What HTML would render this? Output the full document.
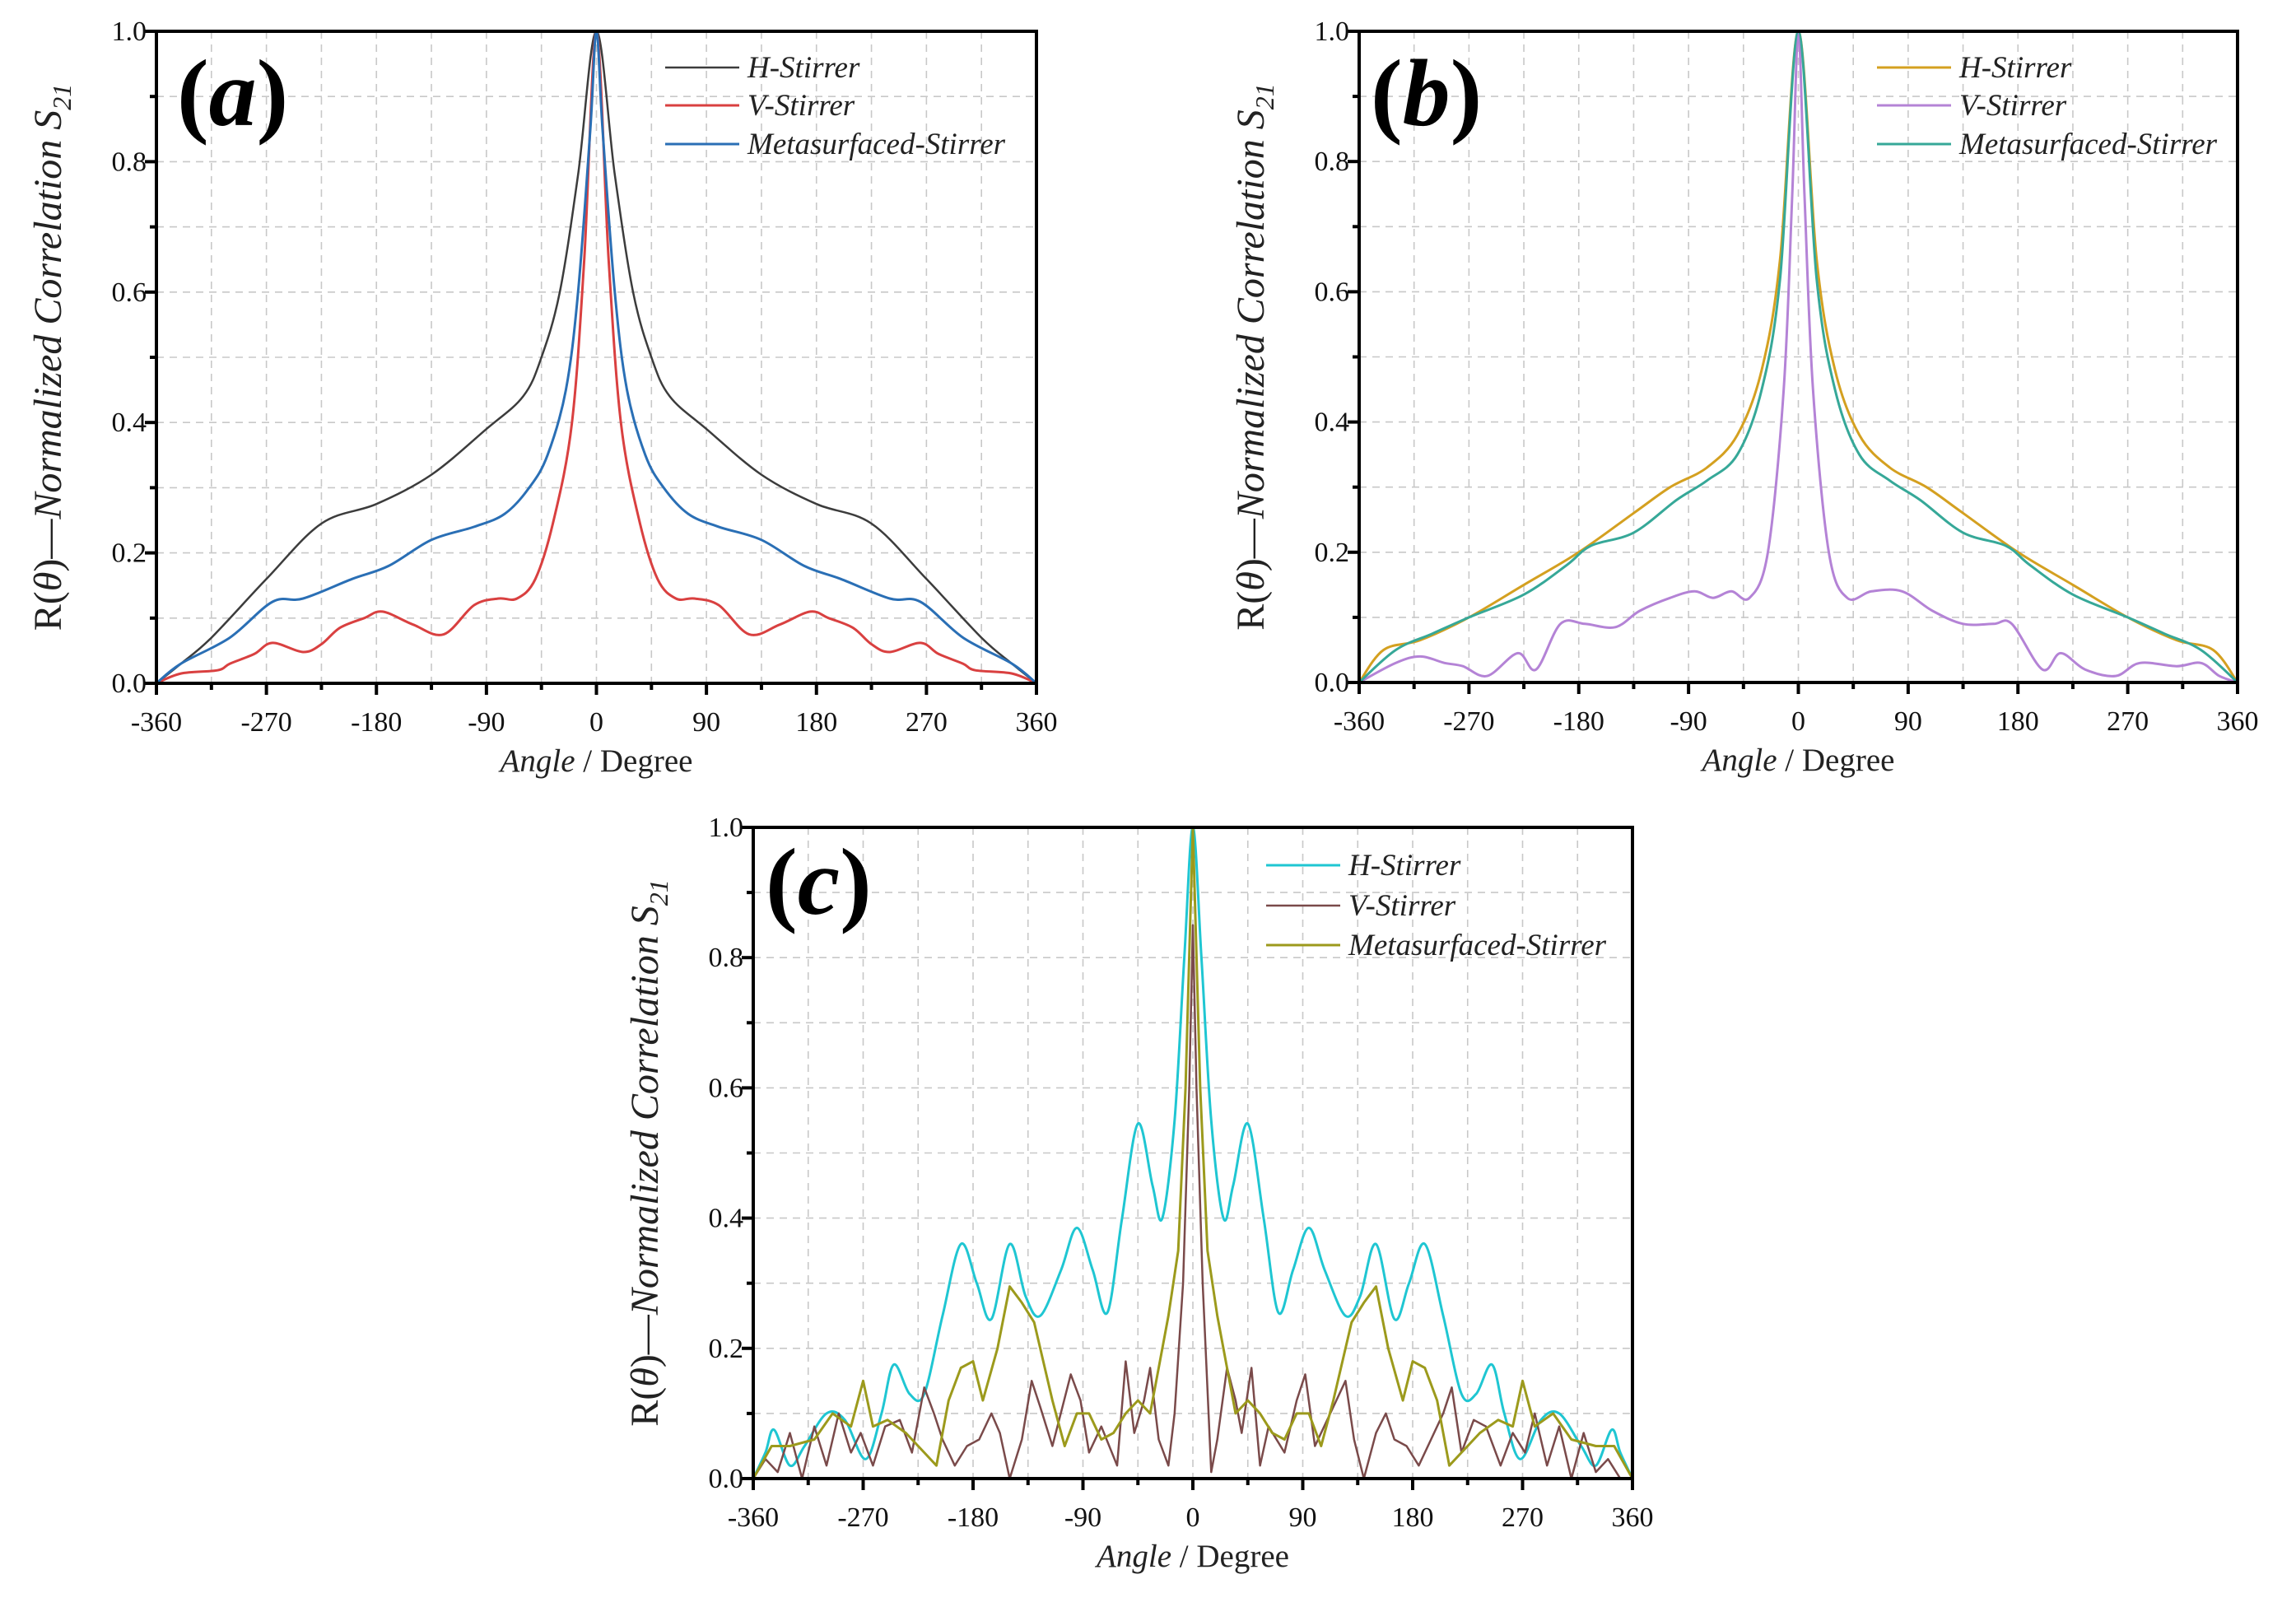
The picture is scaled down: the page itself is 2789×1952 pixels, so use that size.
<!DOCTYPE html>
<html><head><meta charset="utf-8"><style>
html,body{margin:0;padding:0;background:#fff;}
svg{display:block;font-family:"Liberation Serif",serif;}
</style></head>
<body>
<svg id="fig" width="2789" height="1952" viewBox="0 0 2789 1952" xmlns="http://www.w3.org/2000/svg" font-family="Liberation Serif, serif"></svg>
<script>
// ---------- data ----------
const xTicks = [-360,-270,-180,-90,0,90,180,270,360];
const yTicks = [0,0.2,0.4,0.6,0.8,1.0];
const yTickLabels = ["0.0","0.2","0.4","0.6","0.8","1.0"];
const seriesNames = ["H-Stirrer","V-Stirrer","Metasurfaced-Stirrer"];

// panel a
const aHx = [-360,-340,-315,-270,-225,-180,-135,-90,-60,-45,-30,-15,0,15,30,45,60,90,135,180,225,270,315,340,360];
const aHy = [0,0.03,0.07,0.16,0.245,0.275,0.32,0.39,0.44,0.5,0.6,0.78,1.0,0.78,0.6,0.5,0.44,0.39,0.32,0.275,0.245,0.16,0.07,0.03,0];
const aMx = [-360,-340,-300,-265,-240,-200,-170,-135,-100,-75,-55,-40,-25,-15,-5,0,5,15,25,40,55,75,100,135,170,200,240,265,300,340,360];
const aMy = [0,0.03,0.07,0.125,0.13,0.16,0.18,0.22,0.24,0.26,0.3,0.35,0.45,0.6,0.85,1.0,0.85,0.6,0.45,0.35,0.3,0.26,0.24,0.22,0.18,0.16,0.13,0.125,0.07,0.03,0];
const aVx = [-360,-340,-310,-300,-280,-265,-240,-225,-210,-190,-175,-150,-125,-100,-80,-65,-50,-35,-20,-10,0,10,20,35,50,65,80,100,125,150,175,190,210,225,240,265,280,300,310,340,360];
const aVy = [0,0.015,0.02,0.03,0.045,0.062,0.048,0.06,0.085,0.1,0.11,0.09,0.075,0.12,0.13,0.13,0.16,0.25,0.4,0.65,1.0,0.65,0.4,0.25,0.16,0.13,0.13,0.12,0.075,0.09,0.11,0.1,0.085,0.06,0.048,0.062,0.045,0.03,0.02,0.015,0];

// panel b
const bHx = [-360,-340,-310,-270,-225,-180,-135,-105,-75,-50,-30,-15,0,15,30,50,75,105,135,180,225,270,310,340,360];
const bHy = [0,0.05,0.065,0.1,0.15,0.2,0.26,0.3,0.33,0.38,0.48,0.65,1.0,0.65,0.48,0.38,0.33,0.3,0.26,0.2,0.15,0.1,0.065,0.05,0];
const bMx = [-360,-330,-300,-270,-225,-190,-170,-135,-100,-75,-50,-30,-15,0,15,30,50,75,100,135,170,190,225,270,300,330,360];
const bMy = [0,0.05,0.075,0.1,0.135,0.18,0.21,0.23,0.28,0.31,0.35,0.45,0.62,1.0,0.62,0.45,0.35,0.31,0.28,0.23,0.21,0.18,0.135,0.1,0.075,0.05,0];
const bVx = [-360,-330,-310,-290,-275,-255,-230,-215,-195,-175,-150,-130,-105,-85,-70,-55,-40,-25,-12,-5,0,5,12,25,40,60,85,110,135,160,175,200,215,235,260,280,310,330,345,360];
const bVy = [0,0.03,0.04,0.03,0.025,0.01,0.045,0.02,0.09,0.09,0.085,0.11,0.13,0.14,0.13,0.14,0.13,0.2,0.45,0.75,1.0,0.75,0.45,0.2,0.13,0.14,0.14,0.11,0.09,0.09,0.09,0.02,0.045,0.02,0.01,0.03,0.025,0.03,0.01,0];

// panel c
const cHx = [-360,-350,-343,-330,-318,-300,-285,-268,-255,-245,-232,-220,-205,-190,-177,-165,-150,-137,-125,-108,-95,-82,-70,-58,-45,-33,-25,-15,-7,0,7,15,25,33,45,58,70,82,95,108,125,137,150,165,177,190,205,220,232,245,255,268,285,300,318,330,343,350,360];
const cHy = [0,0.04,0.075,0.02,0.05,0.1,0.09,0.03,0.1,0.175,0.13,0.13,0.25,0.36,0.3,0.245,0.36,0.28,0.25,0.32,0.385,0.32,0.255,0.4,0.545,0.45,0.4,0.55,0.8,1.0,0.8,0.55,0.4,0.45,0.545,0.4,0.255,0.32,0.385,0.32,0.25,0.28,0.36,0.245,0.3,0.36,0.25,0.13,0.13,0.175,0.1,0.03,0.09,0.1,0.05,0.02,0.075,0.04,0];
const cMx = [-360,-345,-330,-310,-295,-280,-270,-262,-250,-235,-220,-210,-200,-190,-180,-172,-160,-150,-140,-130,-115,-105,-95,-85,-75,-65,-55,-45,-35,-28,-20,-12,-6,0,6,12,20,28,35,45,55,65,75,85,95,105,115,130,140,150,160,172,180,190,200,210,220,235,250,262,270,280,295,310,330,345,360];
const cMy = [0,0.05,0.05,0.06,0.1,0.08,0.15,0.08,0.09,0.07,0.04,0.02,0.12,0.17,0.18,0.12,0.2,0.295,0.27,0.24,0.12,0.05,0.1,0.1,0.06,0.07,0.1,0.12,0.1,0.17,0.25,0.35,0.6,1.0,0.6,0.35,0.25,0.17,0.1,0.12,0.1,0.07,0.06,0.1,0.1,0.05,0.12,0.24,0.27,0.295,0.2,0.12,0.18,0.17,0.12,0.02,0.04,0.07,0.09,0.08,0.15,0.08,0.1,0.06,0.05,0.05,0];
const cVx = [-360,-350,-340,-330,-320,-310,-300,-290,-280,-272,-262,-252,-240,-230,-220,-212,-205,-195,-185,-175,-165,-158,-150,-140,-132,-125,-115,-100,-92,-85,-75,-62,-55,-48,-40,-35,-28,-20,-15,-8,-3,0,3,8,15,20,28,35,40,48,55,62,75,85,92,100,115,125,132,140,150,158,165,175,185,195,205,212,220,230,240,252,262,272,280,290,300,310,320,330,340,350,360];
const cVy = [0,0.03,0.01,0.07,0.0,0.08,0.02,0.1,0.04,0.07,0.02,0.08,0.09,0.04,0.14,0.1,0.06,0.02,0.05,0.06,0.1,0.07,0.0,0.06,0.15,0.11,0.05,0.16,0.12,0.04,0.08,0.02,0.18,0.07,0.12,0.17,0.06,0.02,0.1,0.3,0.6,0.85,0.6,0.3,0.01,0.06,0.17,0.12,0.07,0.17,0.02,0.08,0.04,0.12,0.16,0.05,0.11,0.15,0.06,0.0,0.07,0.1,0.06,0.05,0.02,0.06,0.1,0.14,0.04,0.09,0.08,0.02,0.07,0.04,0.1,0.02,0.08,0.0,0.07,0.01,0.03,0];

// ---------- rendering ----------
const NS = "http://www.w3.org/2000/svg";
const svg = document.getElementById("fig");
function mk(tag, attrs, parent){
  const e = document.createElementNS(NS, tag);
  for (const k in attrs) e.setAttribute(k, attrs[k]);
  (parent||svg).appendChild(e);
  return e;
}
function smoothPath(pts){
  let d = "M"+pts[0][0].toFixed(1)+","+pts[0][1].toFixed(1);
  for (let i=0;i<pts.length-1;i++){
    const p0=pts[Math.max(0,i-1)],p1=pts[i],p2=pts[i+1],p3=pts[Math.min(pts.length-1,i+2)];
    const c1=[p1[0]+(p2[0]-p0[0])/6,p1[1]+(p2[1]-p0[1])/6];
    const c2=[p2[0]-(p3[0]-p1[0])/6,p2[1]-(p3[1]-p1[1])/6];
    d+=" C"+c1[0].toFixed(1)+","+c1[1].toFixed(1)+" "+c2[0].toFixed(1)+","+c2[1].toFixed(1)+" "+p2[0].toFixed(1)+","+p2[1].toFixed(1);
  }
  return d;
}
function linePath(pts){
  return pts.map((p,i)=>(i?"L":"M")+p[0].toFixed(1)+","+p[1].toFixed(1)).join(" ");
}

function drawPanel(cfg){
  const g = mk("g", {});
  
  
  const L=cfg.L, R=cfg.R, T=cfg.T, B=cfg.B;
  const xs = v => L + (v+360)/720*(R-L);
  const ys = v => B - v*(B-T);
  const grid = mk("g", {stroke:"#c8c8c8","stroke-width":1.6,"stroke-dasharray":"9,7"}, g);
  
  
  for (let v=-315; v<360; v+=45){ mk("line",{x1:xs(v),x2:xs(v),y1:T,y2:B},grid); }
  for (let k=1;k<10;k++){ const v=k/10; mk("line",{x1:L,x2:R,y1:ys(v),y2:ys(v)},grid); }
  cfg.series.forEach((s,i)=>{
    const pts = s.x.map((xv,j)=>[xs(xv), ys(s.y[j])]);
    const p = mk("path",{d: s.smooth?smoothPath(pts):linePath(pts), fill:"none", stroke:s.color, "stroke-width":s.w||3, "stroke-linejoin":"round"}, g);
    
    
  });
  const fr = mk("rect",{x:L,y:T,width:R-L,height:B-T,fill:"none",stroke:"#000","stroke-width":4}, g);
  
  
  const xa = mk("g",{},g);
  
  
  for (let v=-360; v<=360; v+=45){
    const major = (v%90===0);
    mk("line",{x1:xs(v),x2:xs(v),y1:B,y2:B+(major?14:8),stroke:"#000","stroke-width":4},xa);
  }
  xTicks.forEach(v=>{
    const t = mk("text",{x:xs(v),y:B+58,"text-anchor":"middle","font-size":34,fill:"#111"},xa);
    t.textContent = String(v);
    
    
  });
  const xt = mk("text",{x:(L+R)/2,y:B+107,"text-anchor":"middle","font-size":39,fill:"#222"},g);
  xt.innerHTML = '<tspan font-style="italic">Angle</tspan> / Degree';
  
  
  const ya = mk("g",{},g);
  
  
  for (let k=0;k<=10;k++){
    const v=k/10, major=(k%2===0);
    mk("line",{x1:L-(major?14:8),x2:L,y1:ys(v),y2:ys(v),stroke:"#000","stroke-width":4},ya);
  }
  yTicks.forEach((v,i)=>{
    const t = mk("text",{x:L-12,y:ys(v)+11,"text-anchor":"end","font-size":34,fill:"#111"},ya);
    t.textContent = yTickLabels[i];
    
    
  });
  const yx = L-116, yy = (T+B)/2;
  const yt = mk("text",{x:yx,y:yy,"text-anchor":"middle","font-size":48,fill:"#222",transform:"rotate(-90 "+yx+" "+yy+")"},g);
  yt.innerHTML = 'R(<tspan font-style="italic">θ</tspan>)—<tspan font-style="italic">Normalized Correlation S</tspan><tspan font-style="italic" font-size="32" dy="12">21</tspan>';
  
  
  const pl = mk("text",{x:cfg.labX,y:cfg.labY,"font-size":116,"font-weight":"bold",fill:"#000"},g);
  pl.innerHTML = '(<tspan font-style="italic">'+cfg.id+'</tspan>)';
  
  
  const lg = mk("g",{},g);
  
  
  cfg.series.forEach((s,i)=>{
    const y = cfg.legY[i];
    const e = mk("g",{},lg);
    
    
    mk("line",{x1:cfg.legX,x2:cfg.legX+90,y1:y,y2:y,stroke:s.color,"stroke-width":s.w||3},e);
    const t = mk("text",{x:cfg.legX+100,y:y+12,"font-size":37,"font-style":"italic",fill:"#222"},e);
    t.textContent = seriesNames[s.idx];
  });
}

drawPanel({id:"a", L:190, R:1259, T:38, B:830, labX:215, labY:152, legX:808, legY:[82,128,175],
  series:[
    {key:"h-stirrer", idx:0, x:aHx, y:aHy, color:"#3c3c3c", w:2.5, smooth:true},
    {key:"v-stirrer", idx:1, x:aVx, y:aVy, color:"#d94040", w:3, smooth:true},
    {key:"metasurfaced-stirrer", idx:2, x:aMx, y:aMy, color:"#2a6fb5", w:3, smooth:true}
  ]});
drawPanel({id:"b", L:1651, R:2718, T:38, B:829, labX:1665, labY:152, legX:2280, legY:[82,128,175],
  series:[
    {key:"h-stirrer", idx:0, x:bHx, y:bHy, color:"#d4a020", w:3, smooth:true},
    {key:"v-stirrer", idx:1, x:bVx, y:bVy, color:"#b483d6", w:3, smooth:true},
    {key:"metasurfaced-stirrer", idx:2, x:bMx, y:bMy, color:"#36a898", w:3, smooth:true}
  ]});
drawPanel({id:"c", L:915, R:1983, T:1005, B:1796, labX:930, labY:1110, legX:1538, legY:[1051,1100,1148],
  series:[
    {key:"h-stirrer", idx:0, x:cHx, y:cHy, color:"#1fc6d2", w:3, smooth:true},
    {key:"v-stirrer", idx:1, x:cVx, y:cVy, color:"#7a4a4a", w:2.5, smooth:false},
    {key:"metasurfaced-stirrer", idx:2, x:cMx, y:cMy, color:"#9c9a1c", w:3, smooth:false}
  ]});
</script>
</body></html>
